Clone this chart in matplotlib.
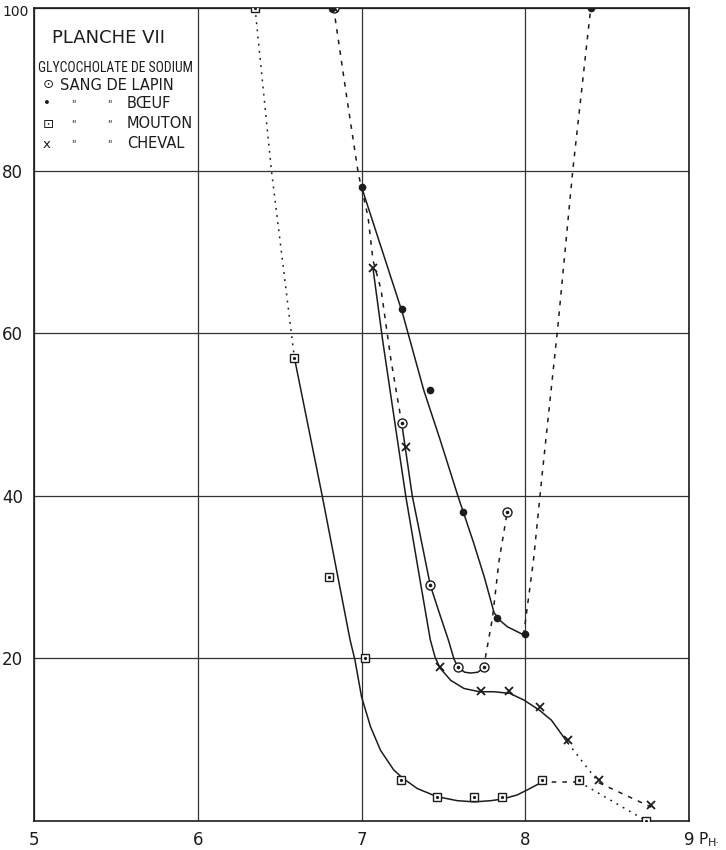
import matplotlib
matplotlib.use('Agg')
import matplotlib.pyplot as plt

# --- measured points (pH, value) ---
lapin_ph = [6.83, 7.25, 7.42, 7.59, 7.75, 7.89]
lapin_val = [100, 49, 29, 19, 19, 38]

boeuf_ph = [6.82, 7.0, 7.25, 7.42, 7.62, 7.83, 8.0, 8.4]
boeuf_val = [100, 78, 63, 53, 38, 25, 23, 100]

mouton_ph = [6.35, 6.59, 6.80, 7.02, 7.24, 7.46, 7.69, 7.86, 8.10, 8.33, 8.74]
mouton_val = [100, 57, 30, 20, 5, 3, 3, 3, 5, 5, 0]

cheval_ph = [6.83, 7.07, 7.27, 7.48, 7.73, 7.90, 8.09, 8.26, 8.45, 8.77]
cheval_val = [100, 68, 46, 19, 16, 16, 14, 10, 5, 2]

# --- hand drawn curves, traced from the plate ---
lapin_dash_x = [6.83, 6.91, 6.98, 7.04, 7.07, 7.12, 7.18, 7.245]
lapin_dash_y = [100, 89, 79.7, 74.3, 69, 65.3, 56.7, 49]
lapin_solid_x = [7.245, 7.31, 7.42, 7.48, 7.53, 7.565, 7.59, 7.63, 7.667, 7.71, 7.745]
lapin_solid_y = [49, 40, 29, 25.3, 22.3, 19.9, 18.9, 18.3, 18.2, 18.3, 18.8]
lapin_dash2_x = [7.745, 7.80, 7.84, 7.89]
lapin_dash2_y = [18.8, 25, 32, 38]

boeuf_solid_x = [7.0, 7.25, 7.38, 7.48, 7.59, 7.685, 7.75, 7.81, 7.85, 7.89, 7.99]
boeuf_solid_y = [78, 62.5, 53, 46.9, 39.9, 34.2, 30.0, 25.6, 24.6, 23.9, 22.9]
boeuf_dash_x = [7.99, 8.05, 8.1, 8.2, 8.29, 8.4]
boeuf_dash_y = [22.9, 32, 42, 61, 80, 100]

mouton_dot_x = [6.35, 6.45, 6.59]
mouton_dot_y = [100, 80, 57]
mouton_solid_x = [6.59, 6.76, 6.93, 6.96, 7.0, 7.055, 7.116, 7.196, 7.25, 7.34,
                  7.46, 7.585, 7.69, 7.79, 7.86, 7.95, 8.01, 8.095]
mouton_solid_y = [57, 40, 22.3, 19.8, 15.3, 11.6, 8.7, 6.3, 5.3, 4.0,
                  3.0, 2.5, 2.35, 2.5, 2.7, 3.2, 3.8, 4.7]
mouton_dash_x = [8.095, 8.33]
mouton_dash_y = [4.8, 4.8]
mouton_dot2_x = [8.33, 8.74]
mouton_dot2_y = [4.8, 0]

cheval_solid_x = [7.07, 7.13, 7.27, 7.35, 7.42, 7.45, 7.48, 7.545, 7.626, 7.72, 7.81,
                  7.905, 7.99, 8.085, 8.16, 8.26]
cheval_solid_y = [68, 59, 40, 30.5, 22.3, 20.1, 18.8, 17.3, 16.3, 15.9, 15.9,
                  15.7, 14.9, 13.65, 12.4, 9.6]
cheval_dot_x = [8.26, 8.45]
cheval_dot_y = [9.6, 4.7]
cheval_dash_x = [8.45, 8.77]
cheval_dash_y = [4.7, 1.7]

x_ticks = [5, 6, 7, 8, 9]
y_ticks = [20, 40, 60, 80, 100]

ink = '#1c1c1c'
W, H = 726, 850

fig = plt.figure(figsize=(W / 100, H / 100), dpi=100)
ax = fig.add_axes([34 / W, 1 - 821 / H, (689 - 34) / W, (821 - 8) / H])
ax.set_xlim(5, 9)
ax.set_ylim(0, 100)

ax.set_xticks(x_ticks)
ax.set_yticks(y_ticks)
# top label "100" is placed by hand so it is not cut by the figure edge
ax.set_yticklabels([str(v) for v in y_ticks[:-1]] + [''])
ax.tick_params(length=0, labelsize=12, colors=ink)
ax.tick_params(axis='x', pad=7)
ax.tick_params(axis='y', pad=8)
for s in ax.spines.values():
    s.set_color(ink)
    s.set_linewidth(1.2)
ax.grid(True, color='#333333', linewidth=0.9)
ax.set_axisbelow(True)

solid = dict(color=ink, linewidth=1.1, linestyle='-')
dashed = dict(color=ink, linewidth=1.1, linestyle=(0, (3, 4)))
dotted = dict(color=ink, linewidth=1.1, linestyle=(0, (1.2, 3.5)))

ax.plot(lapin_dash_x, lapin_dash_y, **dashed)
ax.plot(lapin_solid_x, lapin_solid_y, **solid)
ax.plot(lapin_dash2_x, lapin_dash2_y, **dashed)
ax.plot(boeuf_solid_x, boeuf_solid_y, **solid)
ax.plot(boeuf_dash_x, boeuf_dash_y, **dashed)
ax.plot(mouton_dot_x, mouton_dot_y, **dotted)
ax.plot(mouton_solid_x, mouton_solid_y, **solid)
ax.plot(mouton_dash_x, mouton_dash_y, **dashed)
ax.plot(mouton_dot2_x, mouton_dot2_y, **dotted)
ax.plot(cheval_solid_x, cheval_solid_y, **solid)
ax.plot(cheval_dot_x, cheval_dot_y, **dotted)
ax.plot(cheval_dash_x, cheval_dash_y, **dashed)

# markers
ax.plot(lapin_ph, lapin_val, 'o', ms=6.5, mfc='white', mec=ink, mew=1.0, zorder=5)
ax.plot(lapin_ph, lapin_val, 'o', ms=1.6, color=ink, zorder=6)
ax.plot(boeuf_ph, boeuf_val, 'o', ms=4.5, color=ink, zorder=5)
ax.plot(mouton_ph, mouton_val, 's', ms=5.5, mfc='white', mec=ink, mew=1.0, zorder=5)
ax.plot(mouton_ph, mouton_val, 'o', ms=1.3, color=ink, zorder=6)
ax.plot(cheval_ph, cheval_val, 'x', ms=6, color=ink, mew=1.3, zorder=7)


def px(x, y):
    return x / W, 1 - y / H


fig.text(*px(29, 5), '100', fontsize=10, color=ink, ha='right', va='top')

# legend (hand lettered in the plate)
fig.text(*px(52, 38), 'PLANCHE VII', fontsize=13, color=ink, va='center')
title2 = fig.text(*px(38, 68), 'GLYCOCHOLATE DE SODIUM',
                  family=['Roboto Condensed', 'Liberation Sans Narrow', 'Roboto', 'DejaVu Sans'],
                  fontsize=12, color=ink, va='center')
# squeeze the long line into the grid cell (38..193 px)
renderer = fig.canvas.get_renderer()
w = title2.get_window_extent(renderer).width
if w > 155:
    title2.set_fontsize(12 * 155 / w)

rows = [('\u2299', '', '', 'SANG DE LAPIN', 85),
        ('\u2022', '"', '"', 'B\u0152UF', 104),
        ('\u22a1', '"', '"', 'MOUTON', 124),
        ('x', '"', '"', 'CHEVAL', 144)]
for sym, d1, d2, name, y in rows:
    fig.text(*px(43, y), sym, fontsize=9.5, color=ink, va='center')
    if d1:
        fig.text(*px(71, y), d1, fontsize=7, color=ink, va='center')
        fig.text(*px(107, y), d2, fontsize=7, color=ink, va='center')
        fig.text(*px(127, y), name, fontsize=10.5, color=ink, va='center')
    else:
        fig.text(*px(60, y), name, fontsize=10.5, color=ink, va='center')

fig.text(*px(699, 840), 'P', fontsize=11, color=ink, va='center')
fig.text(*px(708, 843), 'H\u00b7', fontsize=8, color=ink, va='center')

plt.savefig('out.png', dpi=100)
